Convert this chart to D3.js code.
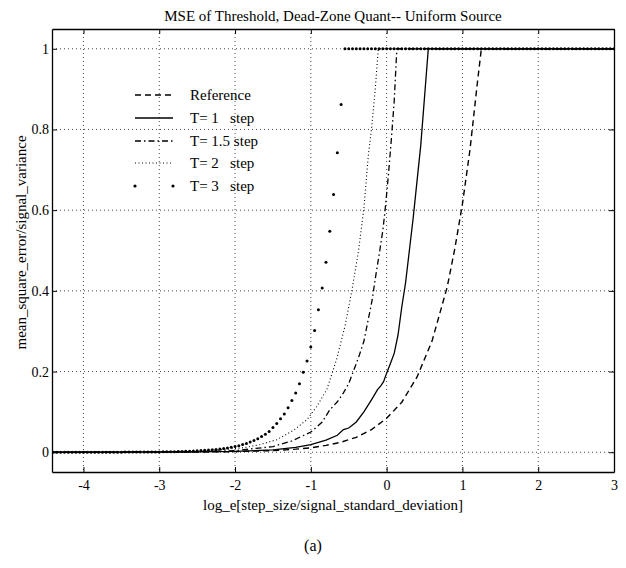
<!DOCTYPE html>
<html>
<head>
<meta charset="utf-8">
<script src="https://cdn.jsdelivr.net/npm/d3@7"></script>
<style>
  html, body { margin: 0; padding: 0; background: #fff; }
  svg { display: block; font-family: "Liberation Serif", "Times New Roman", serif; }
</style>
</head>
<body>
<div id="chart"></div>
<script>
// ---- data ----
const xTicks = [-4, -3, -2, -1, 0, 1, 2, 3];
const yTicks = [0, 0.2, 0.4, 0.6, 0.8, 1];
const seriesNames = ['Reference', 'T= 1   step', 'T= 1.5 step', 'T= 2   step', 'T= 3   step'];

// Reference (dashed)
const refX = [-4.4, -3, -2.5, -2, -1.5, -1.2, -1, -0.8, -0.6, -0.4, -0.2, 0, 0.2, 0.4, 0.6, 0.8, 0.9, 1.0, 1.1, 1.2, 1.25, 3];
const refY = [0, 0.0002, 0.0006, 0.0015, 0.004, 0.0076, 0.011, 0.017, 0.025, 0.037, 0.056, 0.084, 0.124, 0.186, 0.276, 0.41, 0.505, 0.615, 0.75, 0.92, 1, 1];

// T = 1 step (solid)
const t1X = [-4.4, -2.5, -2, -1.5, -1.2, -1, -0.8, -0.65, -0.57, -0.5, -0.4, -0.3, -0.2, -0.12, -0.08, -0.04, 0, 0.05, 0.1, 0.15, 0.2, 0.25, 0.3, 0.35, 0.4, 0.45, 0.5, 0.55, 3];
const t1Y = [0, 0.001, 0.002, 0.006, 0.012, 0.019, 0.03, 0.042, 0.056, 0.06, 0.075, 0.1, 0.13, 0.155, 0.164, 0.175, 0.196, 0.22, 0.245, 0.29, 0.36, 0.42, 0.5, 0.58, 0.67, 0.76, 0.88, 1, 1];

// T = 1.5 step (dash-dot)
const t15X = [-4.4, -2.5, -2, -1.5, -1.25, -1, -0.85, -0.75, -0.65, -0.57, -0.5, -0.44, -0.37, -0.3, -0.19, -0.15, -0.09, -0.05, -0.02, 0.02, 0.06, 0.1, 0.135, 3];
const t15Y = [0, 0.001, 0.004, 0.014, 0.028, 0.05, 0.075, 0.105, 0.125, 0.147, 0.17, 0.2, 0.235, 0.275, 0.378, 0.43, 0.5, 0.55, 0.6, 0.68, 0.77, 0.87, 1, 1];

// T = 2 step (dotted)
const t2X = [-4.4, -3, -2.5, -2.2, -1.89, -1.67, -1.45, -1.23, -1.05, -0.92, -0.79, -0.66, -0.55, -0.46, -0.37, -0.3, -0.24, -0.2, -0.15, -0.11, 3];
const t2Y = [0, 0.001, 0.003, 0.006, 0.011, 0.019, 0.031, 0.054, 0.081, 0.114, 0.155, 0.23, 0.312, 0.399, 0.5, 0.605, 0.738, 0.8, 0.9, 1, 1];

// T = 3 step (point markers, one every 0.05)
const t3X = [
  -4.4, -4.35, -4.3, -4.25, -4.2, -4.15, -4.1, -4.05, -4.0, -3.95, -3.9, -3.85, -3.8, -3.75, -3.7, -3.65, -3.6, -3.55,
  -3.5, -3.45, -3.4, -3.35, -3.3, -3.25, -3.2, -3.15, -3.1, -3.05,
  -3.0, -2.95, -2.9, -2.85, -2.8, -2.75, -2.7, -2.65, -2.6, -2.55, -2.5, -2.45, -2.4, -2.35, -2.3, -2.25, -2.2, -2.15,
  -2.1, -2.05, -2.0, -1.95, -1.9, -1.85, -1.8, -1.75, -1.7, -1.65, -1.6, -1.55, -1.5, -1.45, -1.4, -1.35, -1.3, -1.25,
  -1.2, -1.15, -1.1, -1.05, -1.0, -0.95, -0.9, -0.85, -0.8, -0.75, -0.7, -0.65, -0.6,
  -0.55, -0.5, -0.45, -0.4, -0.35, -0.3, -0.25, -0.2, -0.15, -0.1, -0.05, 0.0, 0.05, 0.1, 0.15, 0.2, 0.25, 0.3,
  0.35, 0.4, 0.45, 0.5, 0.55, 0.6, 0.65, 0.7, 0.75, 0.8, 0.85, 0.9, 0.95, 1.0, 1.05, 1.1, 1.15, 1.2, 1.25, 1.3,
  1.35, 1.4, 1.45, 1.5, 1.55, 1.6, 1.65, 1.7, 1.75, 1.8, 1.85, 1.9, 1.95, 2.0, 2.05, 2.1, 2.15, 2.2, 2.25, 2.3,
  2.35, 2.4, 2.45, 2.5, 2.55, 2.6, 2.65, 2.7, 2.75, 2.8, 2.85, 2.9, 2.95, 3.0
];
const t3Y = [
  0, 0, 0, 0, 0, 0, 0, 0, 0.0001, 0.0001, 0.0001, 0.0001, 0.0001, 0.0001, 0.0001, 0.0001, 0.0002, 0.0002,
  0.0002, 0.0003, 0.0003, 0.0004, 0.0004, 0.0005, 0.0006, 0.0006, 0.0007, 0.0008,
  0.0008, 0.001, 0.0011, 0.0013, 0.0015, 0.0017, 0.0019, 0.0022, 0.0026, 0.003, 0.0034, 0.004, 0.0046, 0.0053, 0.006, 0.0069, 0.008, 0.0092,
  0.0106, 0.0122, 0.0141, 0.0163, 0.0189, 0.0218, 0.0252, 0.029, 0.0335, 0.0387, 0.0446, 0.0515, 0.061, 0.071, 0.083, 0.095, 0.11, 0.128,
  0.147, 0.17, 0.198, 0.226, 0.261, 0.302, 0.353, 0.407, 0.471, 0.548, 0.639, 0.742, 0.862,
  1, 1, 1, 1, 1, 1, 1, 1, 1, 1, 1, 1, 1, 1, 1, 1, 1, 1,
  1, 1, 1, 1, 1, 1, 1, 1, 1, 1, 1, 1, 1, 1, 1, 1, 1, 1, 1, 1,
  1, 1, 1, 1, 1, 1, 1, 1, 1, 1, 1, 1, 1, 1, 1, 1, 1, 1, 1, 1,
  1, 1, 1, 1, 1, 1, 1, 1, 1, 1, 1, 1, 1, 1
];

// ---- layout ----
const W = 626, H = 568;
const margin = { top: 29, right: 12, bottom: 96, left: 52 };
const width = W - margin.left - margin.right;
const height = H - margin.top - margin.bottom;

const svg = d3.select('#chart').append('svg')
  .attr('width', W)
  .attr('height', H);

const g = svg.append('g').attr('transform', `translate(${margin.left},${margin.top})`);

const x = d3.scaleLinear().domain([-4.415, 3]).range([0, width]);
const y = d3.scaleLinear().domain([-0.049, 1.049]).range([height, 0]);

// grid (dotted)
g.append('g')
  .selectAll('line')
  .data(xTicks.filter(d => d < 3))
  .join('line')
  .attr('x1', d => x(d)).attr('x2', d => x(d))
  .attr('y1', 0).attr('y2', height)
  .attr('stroke', '#333').attr('stroke-width', 0.9)
  .attr('stroke-dasharray', '1,3');

g.append('g')
  .selectAll('line')
  .data(yTicks)
  .join('line')
  .attr('x1', 0).attr('x2', width)
  .attr('y1', d => y(d)).attr('y2', d => y(d))
  .attr('stroke', '#333').attr('stroke-width', 0.9)
  .attr('stroke-dasharray', '1,3');

// curves
g.append('clipPath').attr('id', 'clip')
  .append('rect').attr('width', width).attr('height', height);

const plot = g.append('g').attr('clip-path', 'url(#clip)');

const line = d3.line().x(d => x(d[0])).y(d => y(d[1]));
const zip = (xs, ys) => xs.map((v, i) => [v, ys[i]]);

const styles = [
  { pts: zip(refX, refY), dash: '6,4', w: 1.4 },
  { pts: zip(t1X, t1Y), dash: null, w: 1.3 },
  { pts: zip(t15X, t15Y), dash: '6,3,1.5,3', w: 1.3 },
  { pts: zip(t2X, t2Y), dash: '1,2.5', w: 1.1 }
];

styles.forEach(s => {
  plot.append('path')
    .datum(s.pts)
    .attr('fill', 'none')
    .attr('stroke', '#000')
    .attr('stroke-width', s.w)
    .attr('stroke-dasharray', s.dash)
    .attr('d', line);
});

plot.append('g')
  .selectAll('circle')
  .data(zip(t3X, t3Y))
  .join('circle')
  .attr('cx', d => x(d[0]))
  .attr('cy', d => y(d[1]))
  .attr('r', 1.5)
  .attr('fill', '#000');

// axes (ticks inward on all four sides)
const axB = g.append('g')
  .attr('transform', `translate(0,${height})`)
  .call(d3.axisBottom(x).tickValues(xTicks).tickSizeInner(-5).tickSizeOuter(0).tickPadding(8).tickFormat(d3.format('d')));
const axL = g.append('g')
  .call(d3.axisLeft(y).tickValues(yTicks).tickSizeInner(-5).tickSizeOuter(0).tickPadding(3).tickFormat(d => d));
const axT = g.append('g')
  .call(d3.axisTop(x).tickValues(xTicks).tickSizeInner(-5).tickSizeOuter(0).tickFormat(''));
const axR = g.append('g')
  .attr('transform', `translate(${width},0)`)
  .call(d3.axisRight(y).tickValues(yTicks).tickSizeInner(-5).tickSizeOuter(0).tickFormat(''));

[axB, axL, axT, axR].forEach(a => {
  a.selectAll('.domain').attr('stroke', '#000').attr('stroke-width', 1.3);
  a.selectAll('.tick line').attr('stroke', '#000');
  a.selectAll('text')
    .attr('font-family', '"Liberation Serif", "Times New Roman", serif')
    .attr('font-size', 14)
    .attr('fill', '#000');
});
axB.selectAll('text').text(d => String(d).replace('\u2212', '-'));

// legend
const legendY = [95, 118, 141, 163, 186];
const leg = svg.append('g');
const lx0 = 135, lx1 = 173, tx = 190;

styles.forEach((s, i) => {
  leg.append('line')
    .attr('x1', lx0).attr('x2', lx1)
    .attr('y1', legendY[i]).attr('y2', legendY[i])
    .attr('stroke', '#000')
    .attr('stroke-width', s.w)
    .attr('stroke-dasharray', s.dash);
});
[lx0, lx1].forEach(px => {
  leg.append('circle').attr('cx', px).attr('cy', legendY[4]).attr('r', 1.6).attr('fill', '#000');
});
leg.selectAll('text')
  .data(seriesNames)
  .join('text')
  .attr('x', tx)
  .attr('y', (d, i) => legendY[i] + 5)
  .attr('font-size', 15)
  .style('white-space', 'pre')
  .attr('xml:space', 'preserve')
  .text(d => d);

// titles
svg.append('text')
  .attr('x', margin.left + width / 2).attr('y', 21)
  .attr('text-anchor', 'middle').attr('font-size', 15)
  .text('MSE of Threshold, Dead-Zone Quant-- Uniform Source');

svg.append('text')
  .attr('x', margin.left + width / 2).attr('y', 510)
  .attr('text-anchor', 'middle').attr('font-size', 15)
  .text('log_e[step_size/signal_standard_deviation]');

svg.append('text')
  .attr('transform', `translate(26,${margin.top + height / 2 - 8}) rotate(-90)`)
  .attr('text-anchor', 'middle').attr('font-size', 15)
  .text('mean_square_error/signal_variance');

svg.append('text')
  .attr('x', W / 2).attr('y', 551)
  .attr('text-anchor', 'middle').attr('font-size', 16)
  .text('(a)');
</script>
</body>
</html>
